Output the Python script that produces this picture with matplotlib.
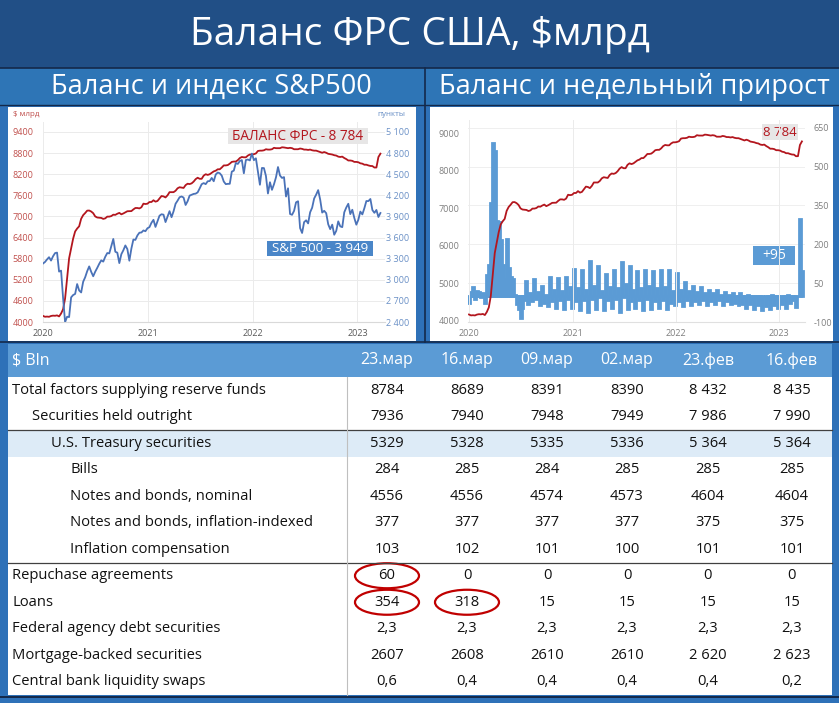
import matplotlib
matplotlib.use("Agg")
import matplotlib.pyplot as plt
import matplotlib.dates as mdates
from matplotlib.patches import Rectangle, Ellipse
import numpy as np
import datetime as dt

plt.rcParams['font.family'] = ['Open Sans', 'DejaVu Sans']

# ---------------- DATA ----------------
weeks = np.arange('2020-01-01', '2023-03-23', 7, dtype='datetime64[D]')

balance = [
    4173, 4149, 4154, 4148, 4171, 4181, 4177, 4188, 4159, 4241,
    4362, 4668, 5254, 5811, 6083, 6368, 6573, 6656, 6720, 6934,
    7037, 7097, 7165, 7168, 7140, 7092, 7000, 6970, 6963, 6958,
    6930, 6946, 6995, 6995, 7010, 7050, 7045, 7077, 7101, 7060,
    7085, 7118, 7148, 7150, 7152, 7200, 7240, 7240, 7228, 7261,
    7363, 7353, 7362,
    7410, 7410, 7460, 7420, 7440, 7510, 7580, 7570, 7540, 7600,
    7690, 7690, 7690, 7730, 7800, 7830, 7820, 7810, 7890, 7930,
    7920, 7940, 7990, 8060, 8100, 8070, 8070, 8160, 8200, 8180,
    8200, 8240, 8280, 8300, 8340, 8340, 8390, 8450, 8450, 8460,
    8500, 8550, 8560, 8560, 8600, 8660, 8690, 8680, 8680, 8730,
    8760, 8760,
    8770, 8790, 8860, 8870, 8870, 8880, 8910, 8900, 8900, 8910,
    8950, 8940, 8940, 8940, 8965, 8960, 8950, 8940, 8950, 8940,
    8910, 8910, 8910, 8930, 8920, 8900, 8900, 8890, 8900, 8880,
    8870, 8870, 8850, 8830, 8810, 8830, 8810, 8780, 8770, 8760,
    8740, 8730, 8700, 8690, 8700, 8660, 8630, 8590, 8590, 8580,
    8550, 8550,
    8540, 8510, 8500, 8470, 8470, 8450, 8435, 8432, 8390, 8391,
    8689, 8784,
]

sp500 = [
    3231, 3253, 3289, 3321, 3273, 3334, 3379, 3386, 3116, 3130,
    2741, 2398, 2475, 2470, 2750, 2783, 2799, 2939, 2848, 2820,
    2972, 3036, 3122, 3190, 3113, 3050, 3115, 3169, 3227, 3276,
    3258, 3327, 3380, 3375, 3478, 3580, 3398, 3385, 3237, 3363,
    3419, 3488, 3436, 3271, 3443, 3572, 3567, 3630, 3669, 3672,
    3701, 3690, 3732,
    3748, 3810, 3852, 3751, 3830, 3910, 3931, 3925, 3820, 3898,
    3975, 3889, 3973, 4080, 4124, 4173, 4184, 4168, 4063, 4116,
    4196, 4208, 4220, 4224, 4242, 4298, 4358, 4374, 4359, 4400,
    4403, 4447, 4400, 4496, 4524, 4514, 4480, 4396, 4359, 4363,
    4364, 4537, 4551, 4660, 4646, 4688, 4701, 4513, 4701, 4709,
    4696, 4793,
    4700, 4726, 4533, 4350, 4589, 4587, 4475, 4226, 4386, 4278,
    4357, 4456, 4602, 4481, 4447, 4459, 4183, 4300, 3935, 3923,
    3979, 4101, 4116, 3735, 3665, 3819, 3845, 3801, 3959, 4024,
    4155, 4210, 4274, 4140, 3955, 3980, 3946, 3789, 3719, 3783,
    3640, 3695, 3830, 3759, 3748, 3959, 4027, 4080, 3933, 3995,
    3878, 3783,
    3853, 3969, 3929, 4017, 4119, 4118, 4148, 3991, 3951, 3992,
    3892, 3949,
]

weekly_change = [
    -25, 15, 35, -10, 20, 15, -5, 10, -25,
    80, 120, 360, 590, 560, 290, 285, 215, 120, 65, 220, 110, 75, 65, 5, -30, -50,
    -85, -45, -15, 60, -30, 10, -20, 65, -10, 15, -35, 40, -25, 5, -40, 75,
    -20, 25, -45, 70, -15, 20, -50, 75, -10, 35, -45,
    105, -20, 30, -55, 100, -15, 25, -60, 135, -10, 40, -50, 115, -5, 20, -55,
    85, -15, 35, -45, 100, -10, 30, -60, 130, -5, 45, -50, 115, -20, 25, -45,
    95, -15, 30, -55, 100, -10, 40, -50, 98, -20, 30, -45, 100, -15, 35, -50,
    100, -25, 20, -35,
    90, -20, 25, -40, 55, -15, 20, -35, 40, -20, 15, -30, 35, -15, 10, -35,
    25, -20, 10, -30, 22, -15, 5, -35, 15, -20, 5, -30, 12, -25, 0, -35,
    10, -30, -5, -45, 5, -30, -10, -50, -5, -35, -15, -55, 0, -40, -10, -50,
    5, -35, -10, -45,
    0, -30, -10, -45, 5, -25, -15, -5, -42, 1, 298, 95,
]

years = [2020, 2021, 2022, 2023]
bal_ticks_left = [4000, 4600, 5200, 5800, 6400, 7000, 7600, 8200, 8800, 9400]
sp_ticks = [2400, 2700, 3000, 3300, 3600, 3900, 4200, 4500, 4800, 5100]
bal_ticks_right_chart = [4000, 5000, 6000, 7000, 8000, 9000]
chg_ticks = [-100, 50, 200, 350, 500, 650]

table_dates = ['23.мар', '16.мар', '09.мар', '02.мар', '23.фев', '16.фев']
row_labels = ['Total factors supplying reserve funds', 'Securities held outright',
              'U.S. Treasury securities', 'Bills', 'Notes and bonds, nominal',
              'Notes and bonds, inflation-indexed', 'Inflation compensation',
              'Repuchase agreements', 'Loans', 'Federal agency debt securities',
              'Mortgage-backed securities', 'Central bank liquidity swaps']
row_indent = [0, 1, 2, 3, 3, 3, 3, 0, 0, 0, 0, 0]
total_factors = ['8784', '8689', '8391', '8390', '8 432', '8 435']
securities_outright = ['7936', '7940', '7948', '7949', '7 986', '7 990']
treasury = ['5329', '5328', '5335', '5336', '5 364', '5 364']
bills = ['284', '285', '284', '285', '285', '285']
notes_nominal = ['4556', '4556', '4574', '4573', '4604', '4604']
notes_indexed = ['377', '377', '377', '377', '375', '375']
inflation_comp = ['103', '102', '101', '100', '101', '101']
repo = ['60', '0', '0', '0', '0', '0']
loans = ['354', '318', '15', '15', '15', '15']
agency_debt = ['2,3', '2,3', '2,3', '2,3', '2,3', '2,3']
mbs = ['2607', '2608', '2610', '2610', '2 620', '2 623']
cb_swaps = ['0,6', '0,4', '0,4', '0,4', '0,4', '0,2']
circled = [(7, 0), (8, 0), (8, 1)]  # (row, column)

table_rows = [total_factors, securities_outright, treasury, bills, notes_nominal,
              notes_indexed, inflation_comp, repo, loans, agency_debt, mbs, cb_swaps]

# ---------------- STYLE ----------------
NAVY = '#214F86'
MID = '#2E71B8'
LINE = '#14294A'
RED = '#B3161E'
SPBLUE = '#4A72B8'
BARBLUE = '#5B9BD5'
HEADBLUE = '#5B9BD5'

W, H = 839, 703
fig = plt.figure(figsize=(W / 100, H / 100), dpi=100)
fig.patch.set_facecolor(MID)


def axes_px(x, y, w, h, **kw):
    return fig.add_axes([x / W, 1 - (y + h) / H, w / W, h / H], **kw)


bg = axes_px(0, 0, W, H)
bg.set_xlim(0, W)
bg.set_ylim(H, 0)
bg.axis('off')

# bands
bg.add_patch(Rectangle((0, 0), W, 68, color=NAVY, lw=0))
bg.add_patch(Rectangle((0, 68), W, 37, color='#2E75B6', lw=0))
bg.plot([0, W], [68, 68], color=LINE, lw=1.2)
bg.plot([0, W], [105, 105], color=LINE, lw=1.0)
bg.plot([425, 425], [68, 342], color=LINE, lw=1.2)
bg.plot([0, W], [342, 342], color=LINE, lw=1.2)
# chart panels
bg.add_patch(Rectangle((8, 107), 408, 234, color='white', lw=0))
bg.add_patch(Rectangle((430, 107), 403, 234, color='white', lw=0))

bg.text(W / 2, 35, 'Баланс ФРС США, $млрд', color='white', fontsize=28,
        ha='center', va='center')
bg.text(211, 87, 'Баланс и индекс S&P500', color='white', fontsize=19.5,
        ha='center', va='center')
bg.text(634, 87, 'Баланс и недельный прирост', color='white', fontsize=19.5,
        ha='center', va='center')

# ---------------- TABLE ----------------
T_X0, T_X1 = 8, 832
HEAD_Y0, HEAD_Y1 = 344, 377
ROW_H = 26.5
col_centers = [387, 467, 547, 627, 708, 792]
bg.add_patch(Rectangle((T_X0, HEAD_Y0), T_X1 - T_X0, HEAD_Y1 - HEAD_Y0, color=HEADBLUE, lw=0))
n_rows = len(row_labels)
bg.add_patch(Rectangle((T_X0, HEAD_Y1), T_X1 - T_X0, ROW_H * n_rows, color='white', lw=0))
bg.add_patch(Rectangle((T_X0, HEAD_Y1 + 2 * ROW_H), T_X1 - T_X0, ROW_H, color='#DDEBF7', lw=0))
bg.plot([T_X0, T_X1], [HEAD_Y1 + 2 * ROW_H, HEAD_Y1 + 2 * ROW_H], color='#404040', lw=0.9)
bg.plot([T_X0, T_X1], [HEAD_Y1 + 7 * ROW_H, HEAD_Y1 + 7 * ROW_H], color='#404040', lw=0.9)
bg.plot([347, 347], [HEAD_Y1, HEAD_Y1 + ROW_H * n_rows], color='#BFBFBF', lw=0.8)
bottom = HEAD_Y1 + ROW_H * n_rows
bg.plot([0, W], [bottom + 2, bottom + 2], color=LINE, lw=1.4)

bg.text(12, (HEAD_Y0 + HEAD_Y1) / 2, '$ Bln', color='white', fontsize=11.5,
        ha='left', va='center')
for c, d in zip(col_centers, table_dates):
    bg.text(c, (HEAD_Y0 + HEAD_Y1) / 2, d, color='white', fontsize=11.5,
            ha='center', va='center')
for r, (lab, ind, vals) in enumerate(zip(row_labels, row_indent, table_rows)):
    yc = HEAD_Y1 + ROW_H * (r + 0.5)
    bg.text(12 + 19.5 * ind, yc, lab, color='#111111', fontsize=10.6,
            ha='left', va='center')
    for c, v in zip(col_centers, vals):
        bg.text(c, yc, v, color='#111111', fontsize=10.6, ha='center', va='center')
for r, c in circled:
    yc = HEAD_Y1 + ROW_H * (r + 0.5)
    bg.add_patch(Ellipse((col_centers[c], yc), 64, 25, fill=False,
                         edgecolor='#C00000', lw=1.6))

# ---------------- LEFT CHART ----------------
dates = mdates.date2num(weeks.astype('datetime64[D]').astype(object))
year_nums = [mdates.date2num(dt.date(y, 1, 1)) for y in years]
d0 = year_nums[0]

axL = axes_px(43, 122, 342, 200)
axL.patch.set_visible(False)
px_per_day_L = 104.8 / 365.25
axL.set_xlim(d0, d0 + 342 / px_per_day_L)
axL.set_ylim(4000, 4000 + 200 * 28.42)
axL.plot(dates, balance, color=RED, lw=1.3, zorder=3)
axL.set_yticks(bal_ticks_left)
axL.set_yticklabels([str(v) for v in bal_ticks_left])
axL.set_xticks(year_nums)
axL.set_xticklabels([str(y) for y in years])
axL.grid(True, color='#EBEBEB', lw=0.7)
axL.set_axisbelow(True)
for s in axL.spines.values():
    s.set_visible(False)
axL.spines['bottom'].set_visible(True)
axL.spines['bottom'].set_color('#D9D9D9')
axL.tick_params(axis='y', length=0, pad=7, labelsize=6.5, labelcolor='#C0504D')
axL.tick_params(axis='x', length=0, pad=5, labelsize=6.5, labelcolor='#595959')

axL2 = axL.twinx()
axL2.set_ylim(2400, 2400 + 200 * 14.21)
axL2.plot(dates, sp500, color=SPBLUE, lw=1.3, zorder=4)
axL2.set_yticks(sp_ticks)
axL2.set_yticklabels([f'{v:,}'.replace(',', ' ') for v in sp_ticks])
for s in axL2.spines.values():
    s.set_visible(False)
axL2.tick_params(axis='y', length=0, pad=1, labelsize=6.5, labelcolor='#6A90C6')

# ---------------- RIGHT CHART ----------------
px_per_day_R = 103.4 / 365.25
axR = axes_px(468, 120, 337, 202)
x_left = d0 - 1 / px_per_day_R
axR.set_xlim(x_left, x_left + 337 / px_per_day_R)
axR.set_ylim(4000 - 1 * 26.64, 4000 + 201 * 26.64)
axR2 = axR.twinx()
axR2.set_ylim(-100 + 0.7 * 3.846, 650 + 7.7 * 3.846)
axR2.bar(dates, weekly_change, width=7, color=BARBLUE, edgecolor=BARBLUE, lw=2.0,
         zorder=2)
axR2.set_yticks(chg_ticks)
axR2.set_yticklabels([str(v) for v in chg_ticks])
axR2.grid(True, axis='y', color='#EFEFEF', lw=0.7)
axR2.set_axisbelow(True)
axR.set_zorder(axR2.get_zorder() + 1)
axR.patch.set_visible(False)
axR.plot(dates, balance, color=RED, lw=1.3, zorder=5)
axR.set_yticks(bal_ticks_right_chart)
axR.set_yticklabels([str(v) for v in bal_ticks_right_chart])
axR.set_xticks(year_nums)
axR.set_xticklabels([str(y) for y in years])
axR.grid(True, axis='x', color='#EBEBEB', lw=0.7)
for a in (axR, axR2):
    for s in a.spines.values():
        s.set_visible(False)
axR.spines['bottom'].set_visible(True)
axR.spines['bottom'].set_color('#E0E0E0')
axR.tick_params(axis='y', length=0, pad=6, labelsize=6.5, labelcolor='#7F7F7F')
axR.tick_params(axis='x', length=0, pad=5, labelsize=6.5, labelcolor='#7F7F7F')
axR2.tick_params(axis='y', length=0, pad=6, labelsize=6.5, labelcolor='#7F7F7F')

# ---------------- OVERLAY ANNOTATIONS ----------------
ov = axes_px(0, 0, W, H)
ov.set_xlim(0, W)
ov.set_ylim(H, 0)
ov.axis('off')
ov.patch.set_visible(False)

ov.text(13, 114, '$ млрд', color='#C0504D', fontsize=5.8, ha='left', va='center')
ov.text(405, 114, 'пункты', color='#6A90C6', fontsize=5.8, ha='right', va='center')

ov.add_patch(Rectangle((228, 128), 140, 16, color='#E7E6E6', lw=0))
ov.text(298, 136, f'БАЛАНС ФРС - {balance[-1] // 1000} {balance[-1] % 1000:03d}',
        color='#B3161E', fontsize=9.8, ha='center', va='center')
ov.add_patch(Rectangle((267, 241), 106, 15, color='#4A86C8', lw=0))
ov.text(320, 248.5, f'S&P 500 - {sp500[-1] // 1000} {sp500[-1] % 1000:03d}',
        color='white', fontsize=9.6, ha='center', va='center')

ov.add_patch(Rectangle((762, 124), 36, 16, color='#E7E6E6', lw=0))
ov.text(780, 132, f'{balance[-1] // 1000} {balance[-1] % 1000:03d}', color='#B3161E',
        fontsize=9.5, ha='center', va='center')
ov.add_patch(Rectangle((753, 246), 42, 19, color=BARBLUE, lw=0))
ov.text(774, 255.5, f'+{weekly_change[-1]}', color='white', fontsize=10,
        ha='center', va='center')

fig.savefig('out.png', dpi=100, facecolor=fig.get_facecolor())
